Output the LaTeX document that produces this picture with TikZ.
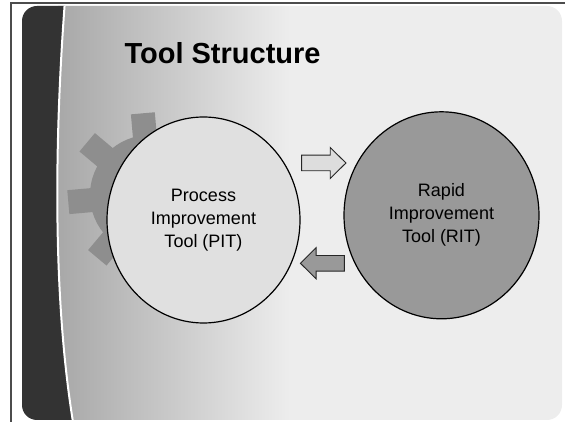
\documentclass[tikz,border=0pt]{standalone}
\usepackage{fontspec}
\setmainfont{Liberation Sans}
\usetikzlibrary{shapes.geometric,calc}

\definecolor{panel}{HTML}{EDEDED}
\definecolor{glow}{HTML}{A8A8A8}
\definecolor{band}{HTML}{333333}
\definecolor{gear}{HTML}{8E8E8E}
\definecolor{pitfill}{HTML}{E0E0E0}
\definecolor{ritfill}{HTML}{999999}
\definecolor{fwdfill}{HTML}{DDDDDD}
\definecolor{bwdfill}{HTML}{999999}

\tikzset{
  tool/.style={ellipse, draw, line width=1.2pt, inner sep=0pt, align=center,
    font=\fontsize{18}{23}\selectfont},
  blockarrow/.style={draw=black!85, line width=0.9pt},
  frame/.style={draw=black!70, line width=1.2pt}
}

\begin{document}
\begin{tikzpicture}[x=1pt,y=1pt]
  \useasboundingbox (0,0) rectangle (565,422);
  \begin{scope}
    \clip[rounded corners=15pt] (22,2) rectangle (562,416);
    \fill[panel] (0,0) rectangle (565,422);
    \shade[left color=glow, right color=panel] (58,0) rectangle (290,422);
    % gear behind the left circle
    \fill[gear] (150,227) circle (60pt);
    \foreach \a in {5,50,...,320}
      \fill[gear, rotate around={\a:(150,227)}] (205,215) rectangle (232,239);
    \fill[band] (0,0) -- (0,422) -- (65,422) .. controls (55,290) and (52,130) .. (73,0) -- cycle;
    \draw[white, line width=2pt] (65,422) .. controls (55,290) and (52,130) .. (73,0);
  \end{scope}
  \draw[frame] (565,419) -- (11,419) -- (11,0);

  \node[anchor=base west, font=\bfseries\fontsize{29}{34}\selectfont] (title) at (121,358.7) {Tool Structure};

  \node[tool, fill=pitfill, minimum width=193pt, minimum height=206pt] (pit) at (203.5,202)
    {Process\\Improvement\\Tool (PIT)};
  \node[tool, fill=ritfill, minimum width=195pt, minimum height=207pt] (rit) at (441.5,206.7)
    {Rapid\\Improvement\\Tool (RIT)};

  \coordinate (fwd) at ($(pit.east)+(1,57)$);
  \coordinate (bwd) at ($(rit.west)+(1,-48)$);
  \draw[blockarrow, fill=fwdfill] (fwd) ++(0,7.8) -- ++(28.6,0) -- ++(0,7.8) -- ++(15.7,-15.6)
    -- ++(-15.7,-15.6) -- ++(0,7.8) -- ++(-28.6,0) -- cycle;
  \draw[blockarrow, fill=bwdfill] (bwd) ++(0,7.8) -- ++(-28.3,0) -- ++(0,7.8) -- ++(-15.7,-15.6)
    -- ++(15.7,-15.6) -- ++(0,7.8) -- ++(28.3,0) -- cycle;
\end{tikzpicture}
\end{document}
